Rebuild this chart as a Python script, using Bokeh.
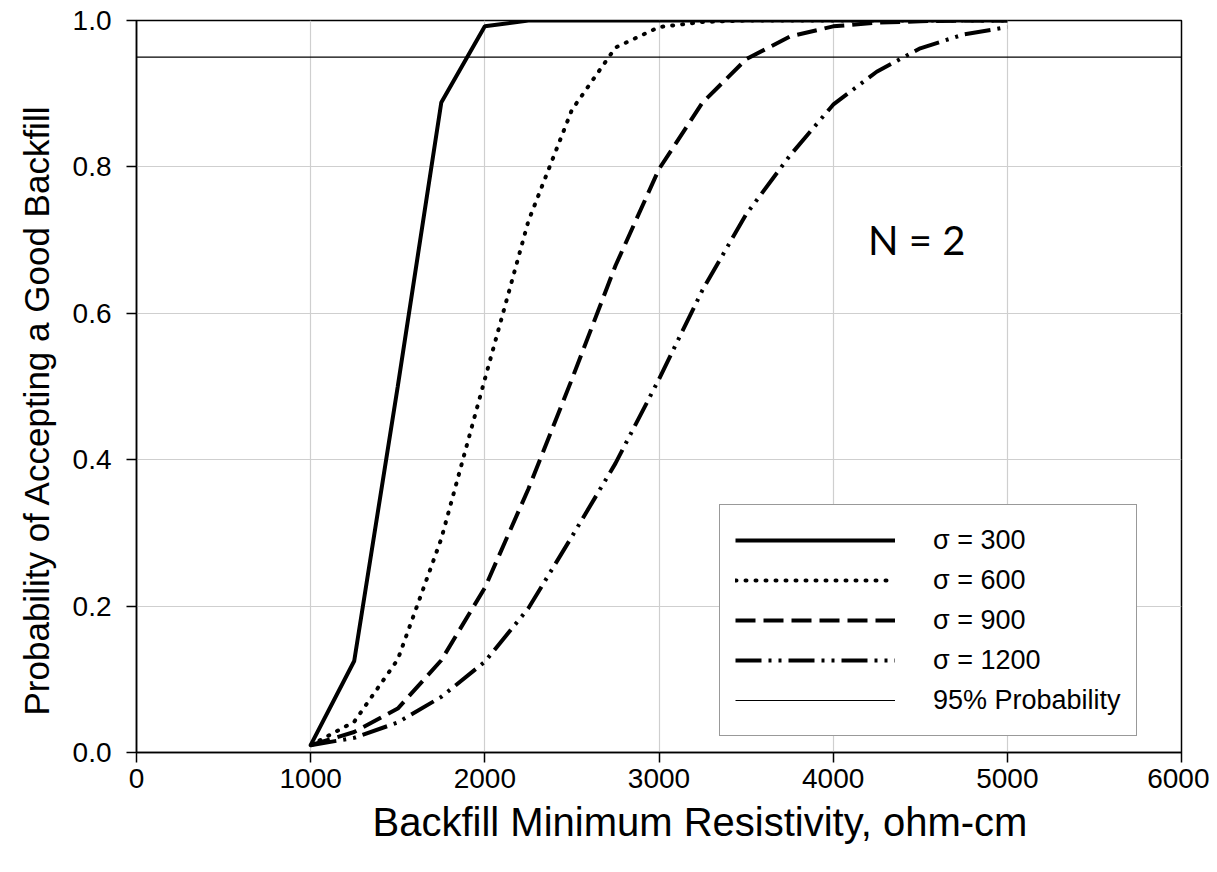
from bokeh.plotting import figure
from bokeh.models import Legend, LegendItem, Label, FixedTicker, NumeralTickFormatter, Title
from bokeh.embed import file_html
from bokeh.resources import INLINE

# ---- data ----
resistivity = [1000, 1250, 1500, 1750, 2000, 2250, 2500, 2750, 3000,
               3250, 3500, 3750, 4000, 4250, 4500, 4750, 5000]
sigma_300 = [0.01, 0.125, 0.50, 0.888, 0.992, 1.0, 1.0, 1.0, 1.0,
             1.0, 1.0, 1.0, 1.0, 1.0, 1.0, 1.0, 1.0]
sigma_600 = [0.01, 0.042, 0.127, 0.292, 0.51, 0.726, 0.878, 0.963, 0.991,
             0.998, 1.0, 1.0, 1.0, 1.0, 1.0, 1.0, 1.0]
sigma_900 = [0.01, 0.028, 0.06, 0.126, 0.225, 0.36, 0.51, 0.665, 0.797,
             0.888, 0.947, 0.978, 0.992, 0.997, 0.999, 1.0, 1.0]
sigma_1200 = [0.01, 0.02, 0.041, 0.076, 0.124, 0.197, 0.295, 0.395, 0.51,
              0.632, 0.735, 0.815, 0.885, 0.93, 0.962, 0.981, 0.991]
prob95_x = [0, 6000]
prob95_y = [0.95, 0.95]

x_ticks = [0, 1000, 2000, 3000, 4000, 5000, 6000]
y_ticks = [0.0, 0.2, 0.4, 0.6, 0.8, 1.0]
labels = ["\u03c3 = 300", "\u03c3 = 600", "\u03c3 = 900", "\u03c3 = 1200", "95% Probability"]
x_title = "Backfill Minimum Resistivity, ohm-cm"
y_title = "Probability of Accepting a Good Backfill"

FONT = "Liberation Sans"

p = figure(width=1209, height=864, x_range=(0, 6000), y_range=(0, 1.0),
           output_backend="svg", toolbar_location=None,
           min_border_left=136, min_border_right=28, min_border_top=20,
           min_border_bottom=112)

p.outline_line_color = "black"
p.outline_line_width = 1.5
p.background_fill_color = "white"
p.border_fill_color = "white"

# grid
for g in (p.xgrid, p.ygrid):
    g.grid_line_color = "#cfcfcf"
    g.grid_line_width = 1.2
p.xgrid.ticker = FixedTicker(ticks=x_ticks)
p.ygrid.ticker = FixedTicker(ticks=y_ticks)

# axes
p.xaxis.ticker = FixedTicker(ticks=x_ticks)
p.yaxis.ticker = FixedTicker(ticks=y_ticks)
p.yaxis.formatter = NumeralTickFormatter(format="0.0")
for ax in (p.xaxis[0], p.yaxis[0]):
    ax.axis_line_color = "black"
    ax.axis_line_width = 1.5
    ax.major_tick_line_color = "black"
    ax.major_tick_line_width = 1.5
    ax.major_tick_in = 0
    ax.major_tick_out = 10
    ax.minor_tick_line_color = None
    ax.major_label_text_font = FONT
    ax.major_label_text_font_size = "28px"
    ax.major_label_text_color = "black"

p.xaxis.major_label_standoff = 6
p.yaxis.major_label_standoff = 15

# axis titles placed as side titles so they sit where the reference has them
xt = Title(text=x_title, align="left", offset=236, text_font=FONT,
           text_font_size="40px", text_font_style="normal", text_color="black",
           standoff=15)
p.add_layout(xt, "below")
yt = Title(text=y_title, align="left", offset=37, text_font=FONT,
           text_font_size="35px", text_font_style="normal", text_color="black",
           standoff=28)
p.add_layout(yt, "left")

# curves
r300 = p.line(resistivity, sigma_300, line_color="black", line_width=4)
r600 = p.line(resistivity, sigma_600, line_color="black", line_width=4,
              line_dash="1 9", line_cap="round")
r900 = p.line(resistivity, sigma_900, line_color="black", line_width=4,
              line_dash="20 8")
r1200 = p.line(resistivity, sigma_1200, line_color="black", line_width=4,
               line_dash="26 7 3 7 3 7")
r95 = p.line(prob95_x, prob95_y, line_color="black", line_width=1.2)

legend = Legend(items=[LegendItem(label=lab, renderers=[r])
                       for lab, r in zip(labels, [r300, r600, r900, r1200, r95])],
                location=(583, 16))
legend.glyph_width = 160
legend.glyph_height = 40
legend.spacing = 0
legend.padding = 15
legend.margin = 0
legend.label_standoff = 38
legend.label_text_font = FONT
legend.label_text_font_size = "27px"
legend.label_text_color = "black"
legend.border_line_color = "#333333"
legend.border_line_width = 1.5
legend.background_fill_alpha = 1.0
p.add_layout(legend, "center")

note = Label(x=4200, y=0.70, text="N = 2", text_font="Lato",
             text_font_size="40px", text_color="black", text_baseline="middle",
             text_align="left")
p.add_layout(note)

open("out.html", "w").write(file_html(p, INLINE))
